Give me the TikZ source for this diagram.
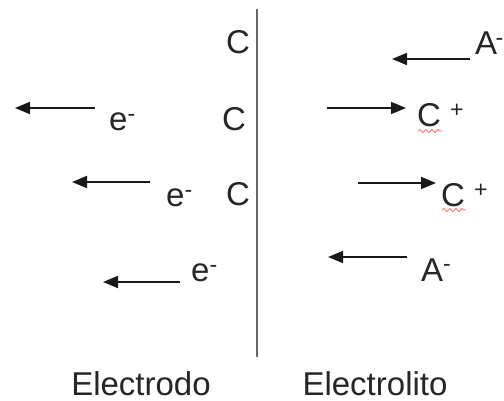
\documentclass[tikz,border=0pt]{standalone}
\usepackage{fontspec}
\setmainfont{Liberation Sans}
\usetikzlibrary{arrows.meta,decorations.pathmorphing}
\begin{document}
\begin{tikzpicture}[x=1pt,y=-1pt,
  lbl/.style={anchor=base,inner sep=0pt,text=black!85,font=\fontsize{33}{36}\selectfont},
  lblw/.style={anchor=base west,inner sep=0pt,text=black!85,font=\fontsize{33}{36}\selectfont},
  flow/.style={line width=1.8pt,draw=black!90,-{Triangle[length=15pt,width=12pt]}},
  wall/.style={line width=1.8pt,draw=black!60},
  spell/.style={draw=red!50,line width=1pt,decorate,decoration={snake,amplitude=1.6pt,segment length=6pt}}]
\useasboundingbox (0,0) rectangle (504,401);
% interface
\coordinate (wtop) at (257,9);
\coordinate (wbot) at (257,357);
\draw[wall] (wtop) -- (wbot);
% carbon atoms
\node[lbl] (c1) at (238,54) {C};
\node[lbl] (c2) at (234,131) {C};
\node[lbl] (c3) at (238,206) {C};
% electrons
\node[lblw] (e1) at (109,131) {e\textsuperscript{-}};
\node[lblw] (e2) at (166,207) {e\textsuperscript{-}};
\node[lblw] (e3) at (191,282) {e\textsuperscript{-}};
\coordinate (e1t) at (95,108);  \coordinate (e1h) at (15,108);
\coordinate (e2t) at (150,182); \coordinate (e2h) at (72,182);
\coordinate (e3t) at (180,282); \coordinate (e3h) at (103,282);
\draw[flow] (e1t) -- (e1h);
\draw[flow] (e2t) -- (e2h);
\draw[flow] (e3t) -- (e3h);
% ions
\node[lblw] (a1) at (475,55) {A\kern-1.5pt\textsuperscript{-}};
\node[lblw] (cp1) at (417,127) {C\hspace{9pt}\textsuperscript{+}};
\node[lblw] (cp2) at (441,207) {C\hspace{9pt}\textsuperscript{+}};
\node[lblw] (a2) at (421,281) {A\textsuperscript{-}};
\coordinate (a1t) at (470,59);  \coordinate (a1h) at (392,59);
\coordinate (p1t) at (327,108); \coordinate (p1h) at (406,108);
\coordinate (p2t) at (358,183); \coordinate (p2h) at (436,183);
\coordinate (a2t) at (407,257); \coordinate (a2h) at (328,257);
\draw[flow] (a1t) -- (a1h);
\draw[flow] (p1t) -- (p1h);
\draw[flow] (p2t) -- (p2h);
\draw[flow] (a2t) -- (a2h);
% spell-check marks
\coordinate (s1a) at (418,131); \coordinate (s1b) at (442,131);
\coordinate (s2a) at (442,210); \coordinate (s2b) at (466,210);
\draw[spell] (s1a) -- (s1b);
\draw[spell] (s2a) -- (s2b);
% captions
\node[lbl] (electrodo) at (141,395) {Electrodo};
\node[lbl] (electrolito) at (375,395) {Electrolito};
\end{tikzpicture}
\end{document}
